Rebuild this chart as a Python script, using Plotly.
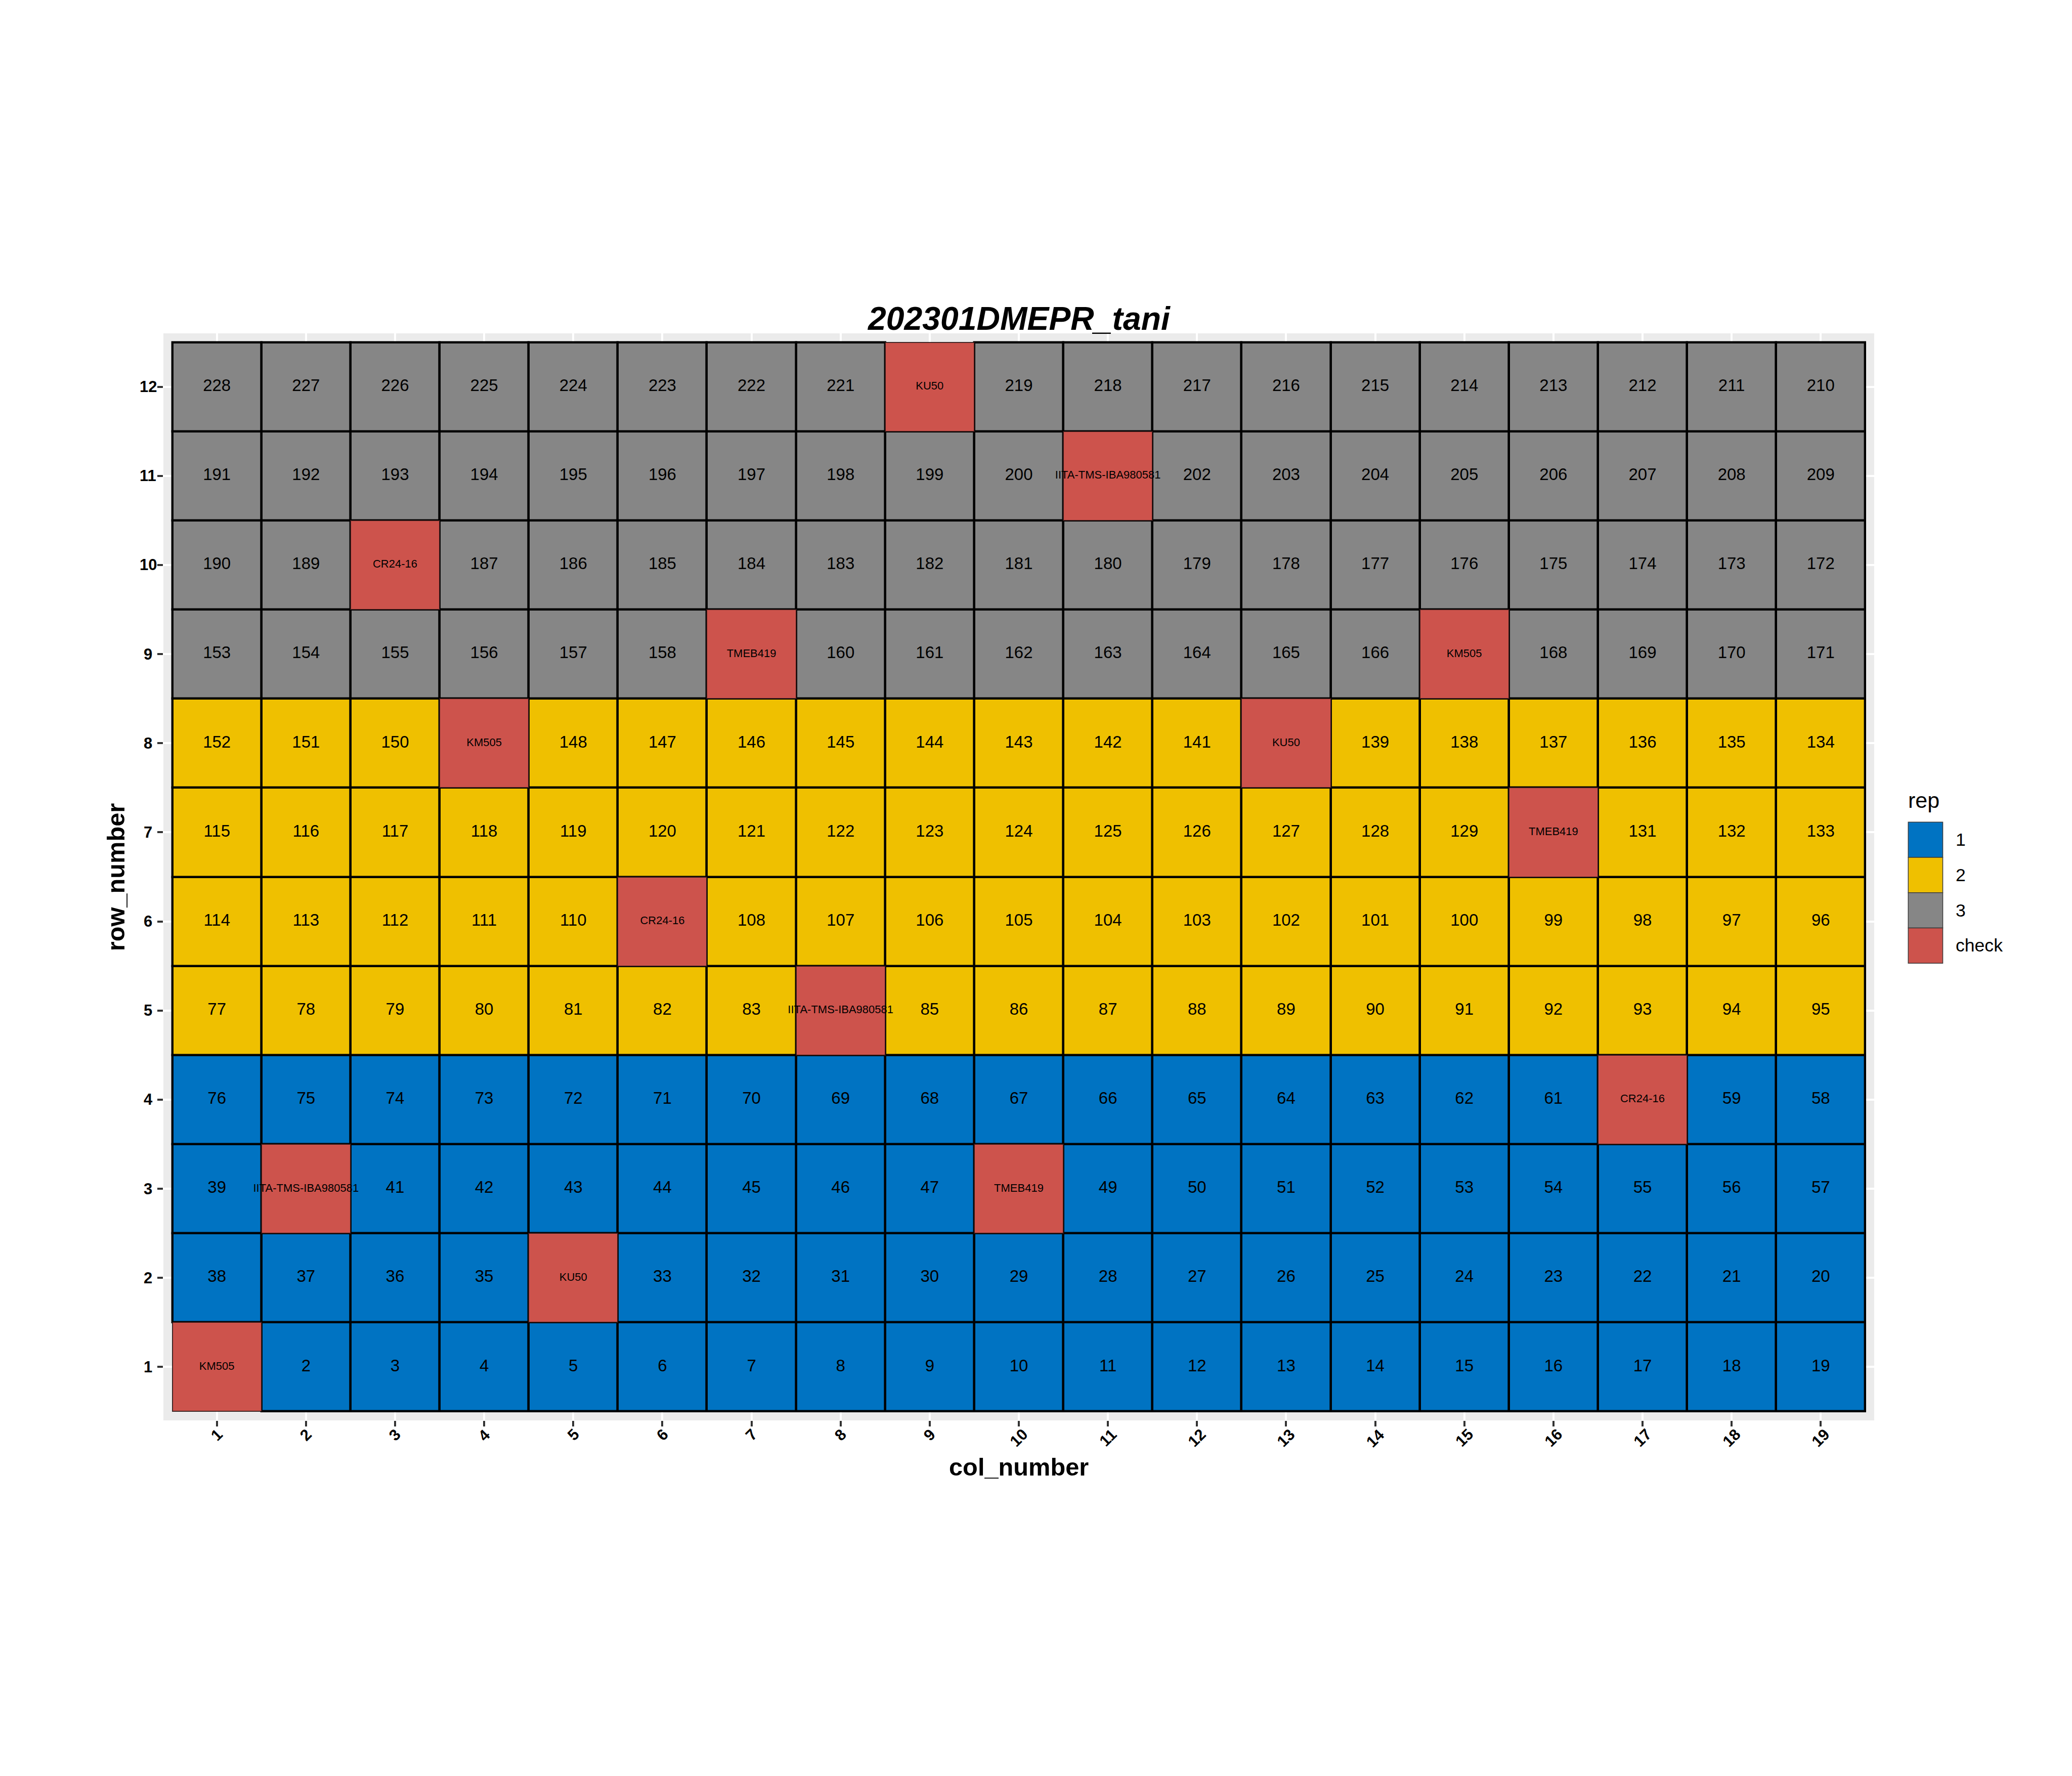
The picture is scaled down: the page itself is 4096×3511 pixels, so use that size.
import plotly.graph_objects as go

# ---------------- data ----------------
col_number = [1, 2, 3, 4, 5, 6, 7, 8, 9, 10, 11, 12, 13, 14, 15, 16, 17, 18, 19]
row_number = [1, 2, 3, 4, 5, 6, 7, 8, 9, 10, 11, 12]
col_tick_labels = ["1", "2", "3", "4", "5", "6", "7", "8", "9", "10", "11", "12",
                   "13", "14", "15", "16", "17", "18", "19"]
row_tick_labels = ["1", "2", "3", "4", "5", "6", "7", "8", "9", "10", "11", "12"]

# plot labels, one list per row (row 1 first), columns 1..19
row_01 = ["KM505", "2", "3", "4", "5", "6", "7", "8", "9", "10", "11", "12", "13", "14", "15", "16", "17", "18", "19"]
row_02 = ["38", "37", "36", "35", "KU50", "33", "32", "31", "30", "29", "28", "27", "26", "25", "24", "23", "22", "21", "20"]
row_03 = ["39", "IITA-TMS-IBA980581", "41", "42", "43", "44", "45", "46", "47", "TMEB419", "49", "50", "51", "52", "53", "54", "55", "56", "57"]
row_04 = ["76", "75", "74", "73", "72", "71", "70", "69", "68", "67", "66", "65", "64", "63", "62", "61", "CR24-16", "59", "58"]
row_05 = ["77", "78", "79", "80", "81", "82", "83", "IITA-TMS-IBA980581", "85", "86", "87", "88", "89", "90", "91", "92", "93", "94", "95"]
row_06 = ["114", "113", "112", "111", "110", "CR24-16", "108", "107", "106", "105", "104", "103", "102", "101", "100", "99", "98", "97", "96"]
row_07 = ["115", "116", "117", "118", "119", "120", "121", "122", "123", "124", "125", "126", "127", "128", "129", "TMEB419", "131", "132", "133"]
row_08 = ["152", "151", "150", "KM505", "148", "147", "146", "145", "144", "143", "142", "141", "KU50", "139", "138", "137", "136", "135", "134"]
row_09 = ["153", "154", "155", "156", "157", "158", "TMEB419", "160", "161", "162", "163", "164", "165", "166", "KM505", "168", "169", "170", "171"]
row_10 = ["190", "189", "CR24-16", "187", "186", "185", "184", "183", "182", "181", "180", "179", "178", "177", "176", "175", "174", "173", "172"]
row_11 = ["191", "192", "193", "194", "195", "196", "197", "198", "199", "200", "IITA-TMS-IBA980581", "202", "203", "204", "205", "206", "207", "208", "209"]
row_12 = ["228", "227", "226", "225", "224", "223", "222", "221", "KU50", "219", "218", "217", "216", "215", "214", "213", "212", "211", "210"]
plot_labels = [row_01, row_02, row_03, row_04, row_05, row_06,
               row_07, row_08, row_09, row_10, row_11, row_12]

rep_of_row = ["1", "1", "1", "1", "2", "2", "2", "2", "3", "3", "3", "3"]
check_names = ["KM505", "KU50", "IITA-TMS-IBA980581", "TMEB419", "CR24-16"]

rep_levels = ["1", "2", "3", "check"]
rep_colors = {"1": "#0073C2", "2": "#EFC000", "3": "#868686", "check": "#CD534C"}

title_text = "202301DMEPR_tani"
x_title = "col_number"
y_title = "row_number"
legend_title = "rep"

# ---------------- layout geometry (pixels in the 4096x3511 window) ----------------
S = 0.975
W, H = 4096, 3511
L, R, T, B = 331 * S, 3800 * S, 676 * S, 2880 * S
FONT = "Liberation Sans, Arial, Helvetica, sans-serif"


def px2x(px):
    return (px - L) / (R - L)


def py2y(py):
    return (B - py) / (B - T)


# ---------------- build cells ----------------
cells = {lvl: {"x": [], "base": [], "y": []} for lvl in rep_levels}
num_x, num_y, num_t = [], [], []
chk_x, chk_y, chk_t = [], [], []
for ri, row in enumerate(plot_labels):
    r = row_number[ri]
    for ci, lab in enumerate(row):
        c = col_number[ci]
        lvl = "check" if lab in check_names else rep_of_row[ri]
        cells[lvl]["x"].append(c)
        cells[lvl]["base"].append(r - 0.5)
        cells[lvl]["y"].append(1)
        if lvl == "check":
            chk_x.append(c); chk_y.append(r); chk_t.append(lab)
        else:
            num_x.append(c); num_y.append(r); num_t.append(lab)

fig = go.Figure()
for lvl in rep_levels:
    d = cells[lvl]
    is_chk = lvl == "check"
    fig.add_trace(go.Bar(
        x=d["x"], y=d["y"], base=d["base"], width=1,
        name=lvl,
        marker=dict(color=rep_colors[lvl],
                    line=dict(color="rgba(40,20,20,0.85)" if is_chk else "black",
                              width=2.0 if is_chk else 4.4)),
        hoverinfo="skip",
    ))

fig.add_trace(go.Scatter(
    x=num_x, y=num_y, text=num_t, mode="text", textposition="middle center",
    textfont=dict(family=FONT, size=33, color="black"), cliponaxis=False, hoverinfo="skip"))
fig.add_trace(go.Scatter(
    x=chk_x, y=chk_y, text=chk_t, mode="text", textposition="middle center",
    textfont=dict(family=FONT, size=22, color="black"), cliponaxis=False, hoverinfo="skip"))

annotations = []
# title
annotations.append(dict(text="<b><i>" + title_text + "</i></b>", xref="paper", yref="paper",
                        x=0.5, y=1, xanchor="center", yanchor="bottom", yshift=-8,
                        showarrow=False, borderpad=0,
                        font=dict(family=FONT, size=64.3, color="black")))
# y tick labels (centred, as in the reference)
for v, t in zip(row_number, row_tick_labels):
    annotations.append(dict(text="<b>" + t + "</b>", xref="paper", yref="y", x=0, y=v,
                            xanchor="center", yanchor="middle", xshift=-30.2,
                            showarrow=False, borderpad=0,
                            font=dict(family=FONT, size=31, color="black")))
# x tick labels (rotated 45 degrees)
for v, t in zip(col_number, col_tick_labels):
    annotations.append(dict(text="<b>" + t + "</b>", xref="x", yref="paper", x=v, y=0,
                            xanchor="center", yanchor="top", yshift=-9.0, textangle=-45,
                            showarrow=False, borderpad=0,
                            font=dict(family=FONT, size=31, color="black")))
# axis titles
annotations.append(dict(text="<b>" + x_title + "</b>", xref="paper", yref="paper", x=0.5, y=0,
                        xanchor="center", yanchor="top", yshift=-63.8, showarrow=False, borderpad=0,
                        font=dict(family=FONT, size=48.75, color="black")))
annotations.append(dict(text="<b>" + y_title + "</b>", xref="paper", yref="paper", x=0, y=0.5,
                        xanchor="center", yanchor="middle", xshift=-94.2, textangle=-90,
                        showarrow=False, borderpad=0,
                        font=dict(family=FONT, size=48.75, color="black")))

# legend (drawn manually so the keys can be large squares)
key_left, key_right = 3869 * S, 3939 * S
key_top, key_h = 1667 * S, 71.5 * S
shapes = []
annotations.append(dict(text=legend_title, xref="paper", yref="paper",
                        x=px2x(key_left - 1), y=py2y(1638 * S + 0.212 * 43 + 1),
                        xanchor="left", yanchor="bottom", showarrow=False, borderpad=0,
                        font=dict(family=FONT, size=43, color="black")))
for i, lvl in enumerate(rep_levels):
    y0 = key_top + i * key_h
    y1 = y0 + key_h
    shapes.append(dict(type="rect", xref="paper", yref="paper",
                       x0=px2x(key_left), x1=px2x(key_right), y0=py2y(y1), y1=py2y(y0),
                       fillcolor=rep_colors[lvl], line=dict(color="#3a3a3a", width=1.5),
                       layer="above"))
    annotations.append(dict(text=lvl, xref="paper", yref="paper",
                            x=px2x(3965 * S - 1), y=py2y((y0 + y1) / 2),
                            xanchor="left", yanchor="middle", showarrow=False, borderpad=0,
                            font=dict(family=FONT, size=35.6, color="black")))

fig.update_layout(
    width=W, height=H,
    margin=dict(l=L, r=W - R, t=T, b=H - B, pad=0, autoexpand=False),
    paper_bgcolor="white", plot_bgcolor="#EBEBEB",
    barmode="overlay", bargap=0, showlegend=False,
    annotations=annotations, shapes=shapes,
    font=dict(family=FONT, color="black"),
)
axis_common = dict(showticklabels=False, ticks="outside", ticklen=10.7, tickwidth=4.2,
                   tickcolor="#333333", showgrid=True, gridcolor="white", gridwidth=4.3,
                   zeroline=False, showline=False, fixedrange=True)
fig.update_xaxes(range=[0.4, 19.6], tickvals=col_number, **axis_common)
fig.update_yaxes(range=[0.4, 12.6], tickvals=row_number, **axis_common)

fig.write_html("out.html")
